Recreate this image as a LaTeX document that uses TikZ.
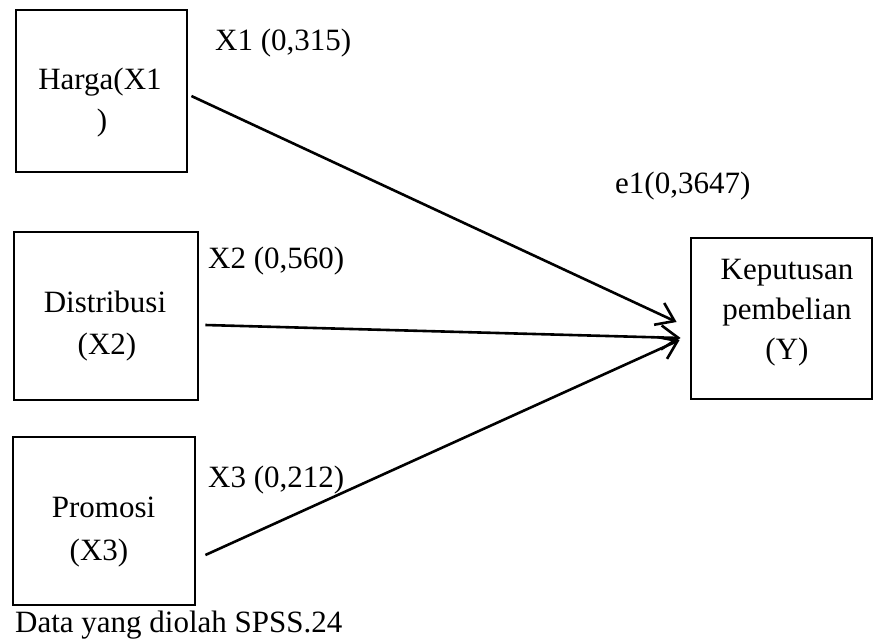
\documentclass[tikz,border=0pt]{standalone}
\usepackage{fontspec}
\setmainfont{Liberation Serif}
\usetikzlibrary{arrows.meta}
\begin{document}
\begin{tikzpicture}[x=1pt,y=-1pt,
  box/.style={draw,line width=2.8pt,inner sep=0pt,rectangle},
  txt/.style={inner sep=0pt,font=\fontsize{31}{40}\selectfont},
  lbl/.style={txt,anchor=base west},
  ctr/.style={txt,anchor=base},
  arr/.style={line width=2.6pt,-{Straight Barb[length=17pt,width=24pt,line width=2.6pt]}}]
\useasboundingbox (0,0) rectangle (874,643);
\node[box,minimum width=171pt,minimum height=162pt] (x1) at (101.5,91) {};
\node[box,minimum width=184pt,minimum height=168pt] (x2) at (106,316) {};
\node[box,minimum width=182pt,minimum height=168pt] (x3) at (104,521) {};
\node[box,minimum width=181pt,minimum height=161pt] (y) at (781.5,318.5) {};
\node[ctr] (t1a) at (100,89) {Harga(X1};
\node[ctr] (t1b) at (102,130) {)};
\node[ctr] (t2a) at (105,312) {Distribusi};
\node[ctr] (t2b) at (107,354) {(X2)};
\node[ctr] (t3a) at (103.5,517) {Promosi};
\node[ctr] (t3b) at (99,560) {(X3)};
\node[ctr] (tya) at (787,279) {Keputusan};
\node[ctr] (tyb) at (787,319) {pembelian};
\node[ctr] (tyc) at (787,359) {(Y)};
\node[lbl] (l1) at (215,50) {X1 (0,315)};
\node[lbl] (l2) at (208,268) {X2 (0,560)};
\node[lbl] (le) at (615,193) {e1(0,3647)};
\node[lbl] (l3) at (208,487) {X3 (0,212)};
\node[lbl] (src) at (15,632) {Data yang diolah SPSS.24};
\draw[arr] ([xshift=3pt,yshift=-5pt]x1.east) -- ([xshift=-13pt,yshift=-3.5pt]y.west);
\draw[arr] ([xshift=6pt,yshift=-9pt]x2.east) -- ([xshift=-9pt,yshift=-19.5pt]y.west);
\draw[arr] ([xshift=9pt,yshift=-34pt]x3.east) -- ([xshift=-10pt,yshift=-21.5pt]y.west);
\end{tikzpicture}
\end{document}
